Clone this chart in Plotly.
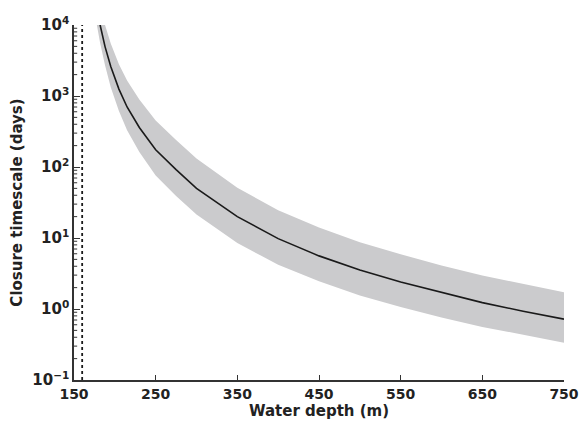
import plotly.graph_objects as go

# Data
depth = [178, 182, 188, 195, 205, 215, 230, 250, 275, 300, 350, 400, 450, 500, 550, 600, 650, 700, 750]
closure_mid = [17900, 10000, 4960, 2600, 1250, 700, 360, 175, 92, 50, 20, 9.8, 5.6, 3.55, 2.4, 1.7, 1.23, 0.93, 0.72]
closure_upper = [35000, 20000, 10000, 5500, 2800, 1650, 890, 450, 240, 132, 51, 24.5, 14, 8.7, 5.9, 4.1, 2.97, 2.24, 1.72]
closure_lower = [10000, 5600, 2700, 1330, 615, 330, 162, 76, 39, 21.4, 8.5, 4.2, 2.45, 1.55, 1.07, 0.76, 0.56, 0.43, 0.336]
asymptote_depth = 160

x_ticks = [150, 250, 350, 450, 550, 650, 750]
y_ticks = [0.1, 1, 10, 100, 1000, 10000]
y_ticktext = ["10<sup>−1</sup>", "10<sup>0</sup>", "10<sup>1</sup>", "10<sup>2</sup>", "10<sup>3</sup>", "10<sup>4</sup>"]
y_minor = [m * 10 ** e for e in [-1, 0, 1, 2, 3] for m in range(2, 10)]

fig = go.Figure()

fig.add_trace(go.Scatter(
    x=depth + depth[::-1],
    y=closure_upper + closure_lower[::-1],
    fill="toself", fillcolor="#cbcbcd",
    line=dict(width=0), mode="lines", hoverinfo="skip", showlegend=False,
))
fig.add_trace(go.Scatter(
    x=depth, y=closure_mid, mode="lines",
    line=dict(color="#1a1a1a", width=1.6), showlegend=False,
))
fig.add_trace(go.Scatter(
    x=[asymptote_depth, asymptote_depth], y=[0.1, 10000], mode="lines",
    line=dict(color="#1a1a1a", width=1.8, dash="dot"), showlegend=False,
))

# minor ticks on the log axis (inside)
for v in y_minor:
    fig.add_shape(type="line", xref="x domain", yref="y",
                  x0=0, x1=0.0065, y0=v, y1=v,
                  line=dict(color="#333333", width=1))

font_family = "DejaVu Sans, Arial, sans-serif"

fig.update_layout(
    width=583, height=423,
    margin=dict(l=74, r=19, t=25, b=43),
    paper_bgcolor="white", plot_bgcolor="white",
    font=dict(family=font_family, color="#222222"),
    xaxis=dict(
        range=[150, 750.01], tickvals=x_ticks, ticktext=[str(v) for v in x_ticks],
        automargin=False,
        ticks="inside", ticklen=5, tickwidth=1.2, tickcolor="#333333",
        showline=True, linecolor="#333333", linewidth=1.5,
        showgrid=False, zeroline=False,
        tickfont=dict(size=14, family=font_family, color="#222222", weight="bold"),
        title=dict(text="<b>Water depth (m)</b>", font=dict(size=15, color="#222222"), standoff=2),
    ),
    yaxis=dict(
        type="log", range=[-1, 4], tickvals=y_ticks, ticktext=y_ticktext,
        automargin=False,
        ticks="inside", ticklen=6, tickwidth=1.2, tickcolor="#333333",
        showline=True, linecolor="#333333", linewidth=1.5,
        showgrid=False, zeroline=False,
        tickfont=dict(size=15, family=font_family, color="#222222", weight="bold"),
        title=dict(text="<b>Closure timescale (days)</b>", font=dict(size=15, color="#222222"), standoff=6),
    ),
)

fig.write_html("out.html")
